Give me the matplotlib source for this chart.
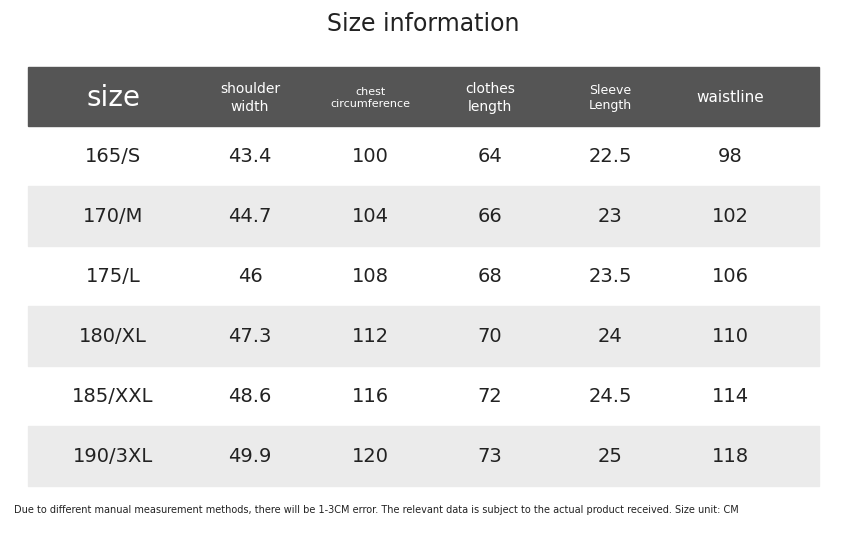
import matplotlib.pyplot as plt
from matplotlib.patches import Rectangle

title = "Size information"
headers = ["size", "shoulder\nwidth", "chest\ncircumference", "clothes\nlength", "Sleeve\nLength", "waistline"]
header_sizes = [20, 10, 8, 10, 9, 11]
sizes = ["165/S", "170/M", "175/L", "180/XL", "185/XXL", "190/3XL"]
shoulder = ["43.4", "44.7", "46", "47.3", "48.6", "49.9"]
chest = ["100", "104", "108", "112", "116", "120"]
length = ["64", "66", "68", "70", "72", "73"]
sleeve = ["22.5", "23", "23.5", "24", "24.5", "25"]
waist = ["98", "102", "106", "110", "114", "118"]
note = ("Due to different manual measurement methods, there will be 1-3CM error. "
        "The relevant data is subject to the actual product received. Size unit: CM")

narrow = ["Liberation Sans Narrow", "DejaVu Sans"]
col_x = [113, 250, 370, 490, 610, 730]
left, right = 28, 819
head_top, row_h = 67, 60

fig = plt.figure(figsize=(8.46, 5.5), dpi=100)
ax = fig.add_axes([0, 0, 1, 1])
ax.set_xlim(0, 846)
ax.set_ylim(550, 0)
ax.axis("off")

ax.text(423, 24, title, ha="center", va="center", fontsize=17, family=narrow, color="#222222")

ax.add_patch(Rectangle((left, head_top), right - left, 59, color="#555555"))
for x, h, fs in zip(col_x, headers, header_sizes):
    ax.text(x, head_top + 31, h, ha="center", va="center", fontsize=fs,
            family=narrow, color="white", linespacing=1.3)

columns = [sizes, shoulder, chest, length, sleeve, waist]
for i in range(len(sizes)):
    y0 = 126 + i * row_h
    if i % 2 == 1:
        ax.add_patch(Rectangle((left, y0), right - left, row_h, color="#ebebeb"))
    for x, col in zip(col_x, columns):
        ax.text(x, y0 + row_h / 2, col[i], ha="center", va="center", fontsize=14, color="#222222")

ax.text(14, 510, note, ha="left", va="center", fontsize=7, family=narrow, color="#222222")

fig.savefig("out.png", dpi=100)
